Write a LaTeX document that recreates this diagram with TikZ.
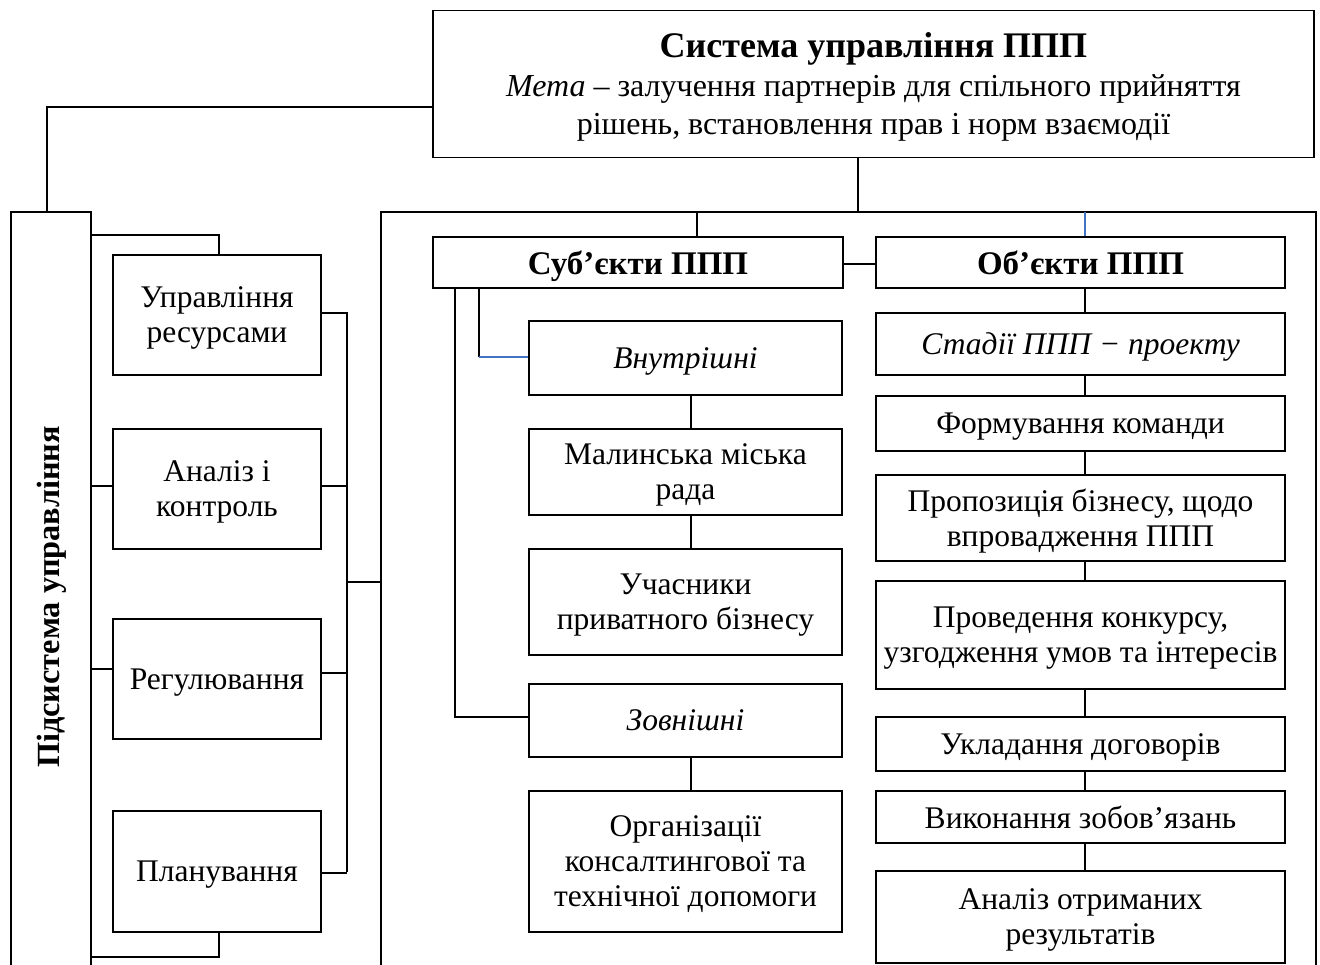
\documentclass[tikz,border=0pt]{standalone}
\usepackage{fontspec}
\setmainfont{Liberation Serif}
\definecolor{lnblue}{HTML}{4472C4}
\begin{document}
\begin{tikzpicture}[x=1pt,y=-1pt,line width=1.3pt,
  box/.style={draw,inner sep=0pt,align=center,text depth=0pt,font=\fontsize{31.5}{35}\selectfont},
  lbox/.style={box,minimum width=208pt,minimum height=120pt},
  mbox/.style={box,minimum width=313pt},
  rbox/.style={box,minimum width=409pt},
  bold/.style={font=\bfseries\fontsize{33}{35}\selectfont},
  ital/.style={font=\itshape\fontsize{31.5}{35}\selectfont},
  conn/.style={draw,line width=1.3pt},
  bconn/.style={draw,lnblue,line width=1.3pt}]
\clip (0,0) rectangle (1320,965);
\fill[white] (0,0) rectangle (1320,965);
% top box
\node[box,minimum width=881pt,minimum height=147pt,font=\fontsize{32}{38.5}\selectfont] (top) at (873.5,84)
 {{\bfseries\fontsize{36}{38.5}\selectfont Система управління ППП}\\\textit{Мета} – залучення партнерів для спільного прийняття\\рішень, встановлення прав і норм взаємодії};
% left tall box
\draw (11,1000) -- (11,212) -- (91,212) -- (91,1000);
\coordinate (tallTop) at (47,212);
\node[rotate=90,font=\bfseries\fontsize{32.3}{35}\selectfont] (psys) at (52,597) {Підсистема управління};
% left boxes
\node[lbox] (upr) at (217,315) {Управління\\ресурсами};
\node[lbox] (anz) at (217,489) {Аналіз і\\контроль};
\node[lbox] (reg) at (217,679) {Регулювання};
\node[lbox,minimum height=121pt] (plan) at (217,871.5) {Планування};
% big container
\draw (381,1000) -- (381,212) -- (1316,212) -- (1316,1000);
\coordinate (bigL) at (381,582);
% subjects column
\node[box,bold,minimum width=410pt,minimum height=51pt] (sub) at (638,262.5) {Суб’єкти ППП};
\node[box,bold,minimum width=409pt,minimum height=51pt] (obj) at (1080.5,262.5) {Об’єкти ППП};
\node[mbox,ital,minimum height=74pt] (vnut) at (685.5,358) {Внутрішні};
\node[mbox,minimum height=86pt] (mal) at (685.5,472) {Малинська міська\\рада};
\node[mbox,minimum height=106pt] (uch) at (685.5,602) {Учасники\\приватного бізнесу};
\node[mbox,ital,minimum height=73pt] (zov) at (685.5,720.5) {Зовнішні};
\node[mbox,minimum height=141pt] (org) at (685.5,861.5) {Організації\\консалтингової та\\технічної допомоги};
% objects column
\node[rbox,ital,minimum height=62pt] (stad) at (1080.5,344) {Стадії ППП − проекту};
\node[rbox,minimum height=55pt] (form) at (1080.5,423.5) {Формування команди};
\node[rbox,minimum height=86pt] (prop) at (1080.5,518) {Пропозиція бізнесу, щодо\\впровадження ППП};
\node[rbox,minimum height=108pt] (prov) at (1080.5,635) {Проведення конкурсу,\\узгодження умов та інтересів};
\node[rbox,minimum height=54pt] (ukl) at (1080.5,744) {Укладання договорів};
\node[rbox,minimum height=52pt] (vyk) at (1080.5,817) {Виконання зобов’язань};
\node[rbox,minimum height=92pt] (anr) at (1080.5,917) {Аналіз отриманих\\результатів};
% helper coordinates
\coordinate (xr) at (1085,0);
\coordinate (xm) at (691,0);
\coordinate (trunk) at (347,0);
% top connectors
\draw[conn] (top.west |- 0,107) -| (tallTop);
\draw[conn] (top.south -| 858,0) -- (858,212);
\draw[conn] (697,212) -- (sub.north -| 697,0);
\draw[bconn] (1085,212) -- (obj.north -| xr);
% left subsystem connectors
\draw[conn] (91,235) -| (upr.north -| 219,0);
\draw[conn] (upr.east |- 0,313) -| (trunk |- plan.east);
\draw[conn] (anz.east |- 0,486) -- (trunk |- 0,486);
\draw[conn] (reg.east |- 0,673) -- (trunk |- 0,673);
\draw[conn] (plan.east |- 0,873) -- (trunk |- 0,873);
\draw[conn] (trunk |- bigL) -- (bigL);
\draw[conn] (91,486) -- (anz.west |- 0,486);
\draw[conn] (91,669) -- (reg.west |- 0,669);
\draw[conn] (plan.south -| 219,0) |- (91,957);
% subjects connectors
\draw[conn] (sub.east |- 0,264) -- (obj.west |- 0,264);
\draw[conn] (sub.south -| 455,0) |- (zov.west |- 0,717);
\draw[conn] (sub.south -| 479,0) -- (479,357);
\draw[bconn] (479,357) -- (vnut.west |- 0,357);
\draw[conn] (vnut.south -| xm) -- (mal.north -| xm);
\draw[conn] (mal.south -| xm) -- (uch.north -| xm);
\draw[conn] (zov.south -| xm) -- (org.north -| xm);
% objects connectors
\draw[conn] (obj.south -| xr) -- (stad.north -| xr);
\draw[conn] (stad.south -| xr) -- (form.north -| xr);
\draw[conn] (form.south -| xr) -- (prop.north -| xr);
\draw[conn] (prop.south -| xr) -- (prov.north -| xr);
\draw[conn] (prov.south -| xr) -- (ukl.north -| xr);
\draw[conn] (ukl.south -| xr) -- (vyk.north -| xr);
\draw[conn] (vyk.south -| xr) -- (anr.north -| xr);
\end{tikzpicture}
\end{document}
